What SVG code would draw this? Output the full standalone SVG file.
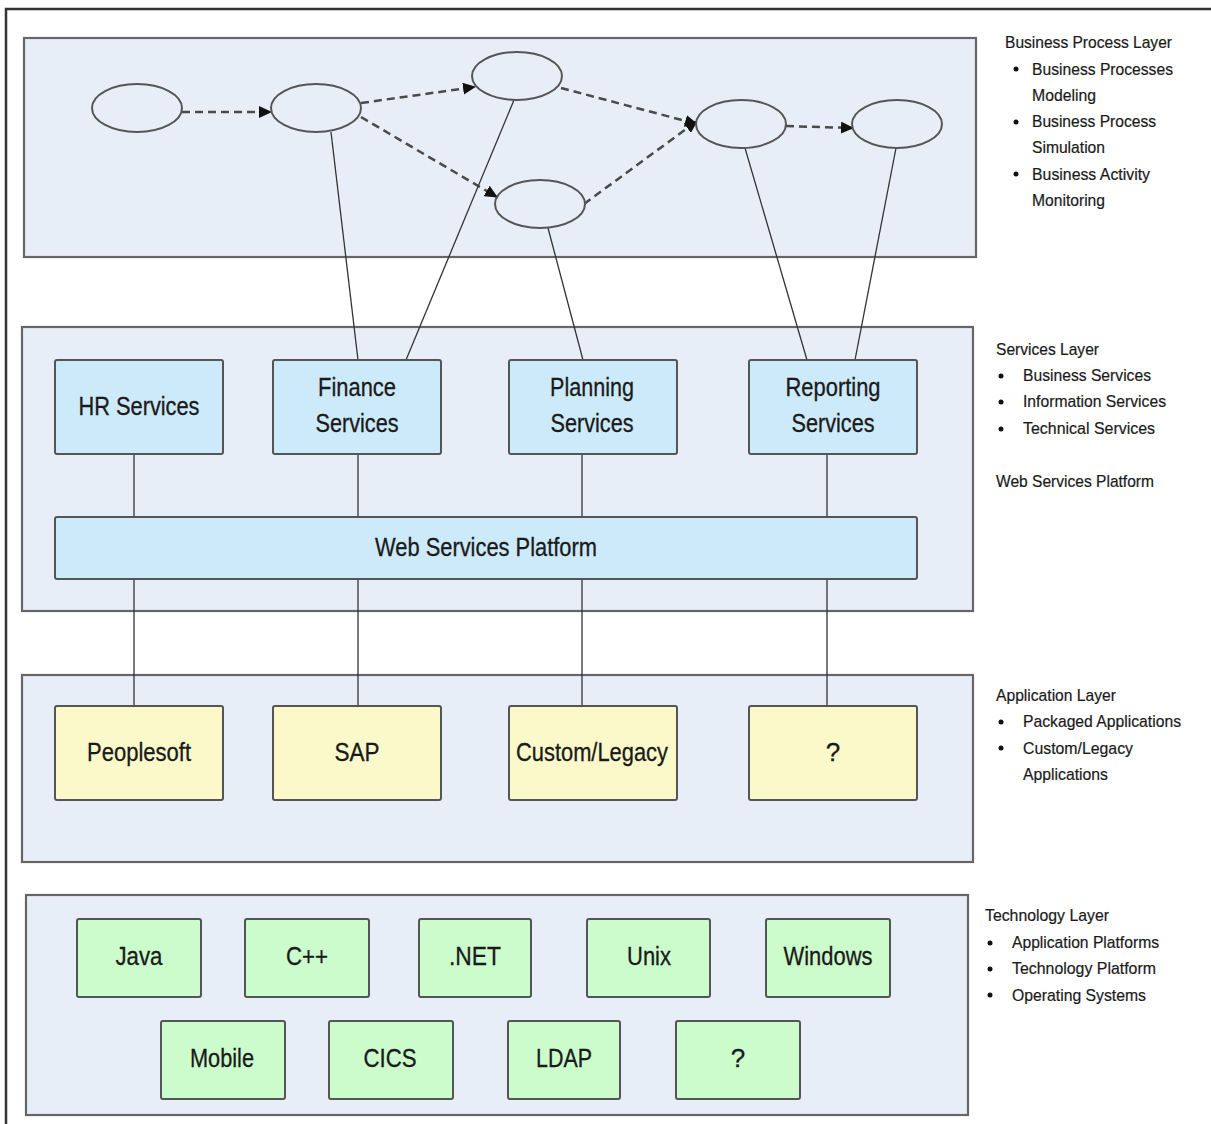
<svg xmlns="http://www.w3.org/2000/svg" width="1211" height="1124" viewBox="0 0 1211 1124">
<style>
.frame{fill:#ffffff;stroke:#333;stroke-width:2.5}
.panel{fill:#e8eef8;stroke:#666;stroke-width:2.2}
.ell{fill:#e8eef8;stroke:#555;stroke-width:2}
.svc{fill:#cdeafa;stroke:#555;stroke-width:2}
.app{fill:#fbf9c9;stroke:#555;stroke-width:2}
.tech{fill:#ccfccc;stroke:#555;stroke-width:2}
.dash{fill:none;stroke:#4a4a4a;stroke-width:2.5;stroke-dasharray:8 5}
.solid{fill:none;stroke:#333;stroke-width:1.3}
.lbl{font-family:"Liberation Sans Narrow","Liberation Sans",Arial,sans-serif;font-size:26px;fill:#1a1a1a;text-anchor:middle;stroke:#1a1a1a;stroke-width:0.3}
.side{font-family:"Liberation Sans Narrow","Liberation Sans",Arial,sans-serif;font-size:17px;fill:#1a1a1a;stroke:#1a1a1a;stroke-width:0.2}
.bul{fill:#111}
</style>
<defs>
<marker id="arr" markerWidth="13" markerHeight="12" refX="12" refY="6" orient="auto" markerUnits="userSpaceOnUse">
<path d="M0,0 L13,6 L0,12 z" fill="#111"/>
</marker>
</defs>
<rect class="frame" x="6" y="9" width="1215" height="1125"/>
<g id="panels">
<rect class="panel" x="24" y="38" width="952" height="219"/>
<rect class="panel" x="22" y="327" width="951" height="284"/>
<rect class="panel" x="22" y="675" width="951" height="187"/>
<rect class="panel" x="26" y="895" width="942" height="220"/>
</g>
<g id="connectors">
<line class="dash" x1="182" y1="112" x2="271" y2="112" marker-end="url(#arr)"/>
<line class="dash" x1="361" y1="103" x2="475" y2="87" marker-end="url(#arr)"/>
<line class="dash" x1="361" y1="117" x2="497" y2="197" marker-end="url(#arr)"/>
<line class="dash" x1="561" y1="88" x2="697" y2="124" marker-end="url(#arr)"/>
<line class="dash" x1="584" y1="204" x2="697" y2="121" marker-end="url(#arr)"/>
<line class="dash" x1="786" y1="126" x2="853" y2="128" marker-end="url(#arr)"/>
<line class="solid" x1="331" y1="132" x2="358" y2="360"/>
<line class="solid" x1="514" y1="100" x2="406" y2="360"/>
<line class="solid" x1="548" y1="228" x2="583" y2="360"/>
<line class="solid" x1="745" y1="148" x2="807" y2="360"/>
<line class="solid" x1="896" y1="148" x2="855" y2="360"/>
<line class="solid" x1="134" y1="454" x2="134" y2="706"/>
<line class="solid" x1="358" y1="454" x2="358" y2="706"/>
<line class="solid" x1="582" y1="454" x2="582" y2="706"/>
<line class="solid" x1="827" y1="454" x2="827" y2="706"/>
</g>
<g id="processes">
<ellipse id="p1" class="ell" cx="137" cy="108" rx="45" ry="24"/>
<ellipse id="p2" class="ell" cx="316" cy="108" rx="45" ry="24"/>
<ellipse id="p3" class="ell" cx="517" cy="76" rx="45" ry="24"/>
<ellipse id="p4" class="ell" cx="540" cy="204" rx="45" ry="24"/>
<ellipse id="p5" class="ell" cx="741" cy="124" rx="45" ry="24"/>
<ellipse id="p6" class="ell" cx="897" cy="124" rx="45" ry="24"/>
</g>
<g id="hr"><rect class="svc" x="55" y="360" width="168" height="94" rx="2"/><text class="lbl" x="139" y="415" textLength="121" lengthAdjust="spacingAndGlyphs">HR Services</text></g>
<g id="finance"><rect class="svc" x="273" y="360" width="168" height="94" rx="2"/><text class="lbl" x="357" y="396" textLength="78" lengthAdjust="spacingAndGlyphs">Finance</text><text class="lbl" x="357" y="432" textLength="83" lengthAdjust="spacingAndGlyphs">Services</text></g>
<g id="planning"><rect class="svc" x="509" y="360" width="168" height="94" rx="2"/><text class="lbl" x="592" y="396" textLength="84" lengthAdjust="spacingAndGlyphs">Planning</text><text class="lbl" x="592" y="432" textLength="83" lengthAdjust="spacingAndGlyphs">Services</text></g>
<g id="reporting"><rect class="svc" x="749" y="360" width="168" height="94" rx="2"/><text class="lbl" x="833" y="396" textLength="95" lengthAdjust="spacingAndGlyphs">Reporting</text><text class="lbl" x="833" y="432" textLength="83" lengthAdjust="spacingAndGlyphs">Services</text></g>
<g id="wsp"><rect class="svc" x="55" y="517" width="862" height="62" rx="2"/><text class="lbl" x="486" y="556" textLength="222" lengthAdjust="spacingAndGlyphs">Web Services Platform</text></g>
<g id="peoplesoft"><rect class="app" x="55" y="706" width="168" height="94" rx="2"/><text class="lbl" x="139" y="761" textLength="104" lengthAdjust="spacingAndGlyphs">Peoplesoft</text></g>
<g id="sap"><rect class="app" x="273" y="706" width="168" height="94" rx="2"/><text class="lbl" x="357" y="761" textLength="45" lengthAdjust="spacingAndGlyphs">SAP</text></g>
<g id="custom"><rect class="app" x="509" y="706" width="168" height="94" rx="2"/><text class="lbl" x="592" y="761" textLength="152" lengthAdjust="spacingAndGlyphs">Custom/Legacy</text></g>
<g id="appq"><rect class="app" x="749" y="706" width="168" height="94" rx="2"/><text class="lbl" x="833" y="761">?</text></g>
<g id="java"><rect class="tech" x="77" y="919" width="124" height="78" rx="2"/><text class="lbl" x="139" y="965" textLength="47" lengthAdjust="spacingAndGlyphs">Java</text></g>
<g id="cpp"><rect class="tech" x="245" y="919" width="124" height="78" rx="2"/><text class="lbl" x="307" y="965" textLength="42" lengthAdjust="spacingAndGlyphs">C++</text></g>
<g id="net"><rect class="tech" x="419" y="919" width="112" height="78" rx="2"/><text class="lbl" x="475" y="965" textLength="52" lengthAdjust="spacingAndGlyphs">.NET</text></g>
<g id="unix"><rect class="tech" x="587" y="919" width="123" height="78" rx="2"/><text class="lbl" x="649" y="965" textLength="44" lengthAdjust="spacingAndGlyphs">Unix</text></g>
<g id="windows"><rect class="tech" x="766" y="919" width="124" height="78" rx="2"/><text class="lbl" x="828" y="965" textLength="89" lengthAdjust="spacingAndGlyphs">Windows</text></g>
<g id="mobile"><rect class="tech" x="161" y="1021" width="124" height="78" rx="2"/><text class="lbl" x="222" y="1067" textLength="64" lengthAdjust="spacingAndGlyphs">Mobile</text></g>
<g id="cics"><rect class="tech" x="329" y="1021" width="124" height="78" rx="2"/><text class="lbl" x="390" y="1067" textLength="53" lengthAdjust="spacingAndGlyphs">CICS</text></g>
<g id="ldap"><rect class="tech" x="508" y="1021" width="112" height="78" rx="2"/><text class="lbl" x="564" y="1067" textLength="56" lengthAdjust="spacingAndGlyphs">LDAP</text></g>
<g id="techq"><rect class="tech" x="676" y="1021" width="124" height="78" rx="2"/><text class="lbl" x="738" y="1067">?</text></g>
<g id="notes-bp">
<text class="side" x="1005" y="48" textLength="167" lengthAdjust="spacingAndGlyphs">Business Process Layer</text>
<circle class="bul" cx="1016" cy="69" r="2.5"/><text class="side" x="1032" y="75" textLength="141" lengthAdjust="spacingAndGlyphs">Business Processes</text>
<text class="side" x="1032" y="101" textLength="64" lengthAdjust="spacingAndGlyphs">Modeling</text>
<circle class="bul" cx="1016" cy="122" r="2.5"/><text class="side" x="1032" y="127" textLength="124" lengthAdjust="spacingAndGlyphs">Business Process</text>
<text class="side" x="1032" y="153" textLength="73" lengthAdjust="spacingAndGlyphs">Simulation</text>
<circle class="bul" cx="1016" cy="174" r="2.5"/><text class="side" x="1032" y="180" textLength="118" lengthAdjust="spacingAndGlyphs">Business Activity</text>
<text class="side" x="1032" y="206" textLength="73" lengthAdjust="spacingAndGlyphs">Monitoring</text>
</g>
<g id="notes-svc">
<text class="side" x="996" y="355" textLength="103" lengthAdjust="spacingAndGlyphs">Services Layer</text>
<circle class="bul" cx="1001" cy="376" r="2.5"/><text class="side" x="1023" y="381" textLength="128" lengthAdjust="spacingAndGlyphs">Business Services</text>
<circle class="bul" cx="1001" cy="402" r="2.5"/><text class="side" x="1023" y="407" textLength="143" lengthAdjust="spacingAndGlyphs">Information Services</text>
<circle class="bul" cx="1001" cy="429" r="2.5"/><text class="side" x="1023" y="434" textLength="132" lengthAdjust="spacingAndGlyphs">Technical Services</text>
<text class="side" x="996" y="487" textLength="158" lengthAdjust="spacingAndGlyphs">Web Services Platform</text>
</g>
<g id="notes-app">
<text class="side" x="996" y="701" textLength="120" lengthAdjust="spacingAndGlyphs">Application Layer</text>
<circle class="bul" cx="1001" cy="722" r="2.5"/><text class="side" x="1023" y="727" textLength="158" lengthAdjust="spacingAndGlyphs">Packaged Applications</text>
<circle class="bul" cx="1001" cy="748" r="2.5"/><text class="side" x="1023" y="754" textLength="110" lengthAdjust="spacingAndGlyphs">Custom/Legacy</text>
<text class="side" x="1023" y="780" textLength="85" lengthAdjust="spacingAndGlyphs">Applications</text>
</g>
<g id="notes-tech">
<text class="side" x="985" y="921" textLength="124" lengthAdjust="spacingAndGlyphs">Technology Layer</text>
<circle class="bul" cx="990" cy="943" r="2.5"/><text class="side" x="1012" y="948" textLength="147" lengthAdjust="spacingAndGlyphs">Application Platforms</text>
<circle class="bul" cx="990" cy="969" r="2.5"/><text class="side" x="1012" y="974" textLength="144" lengthAdjust="spacingAndGlyphs">Technology Platform</text>
<circle class="bul" cx="990" cy="995" r="2.5"/><text class="side" x="1012" y="1001" textLength="134" lengthAdjust="spacingAndGlyphs">Operating Systems</text>
</g>
</svg>
